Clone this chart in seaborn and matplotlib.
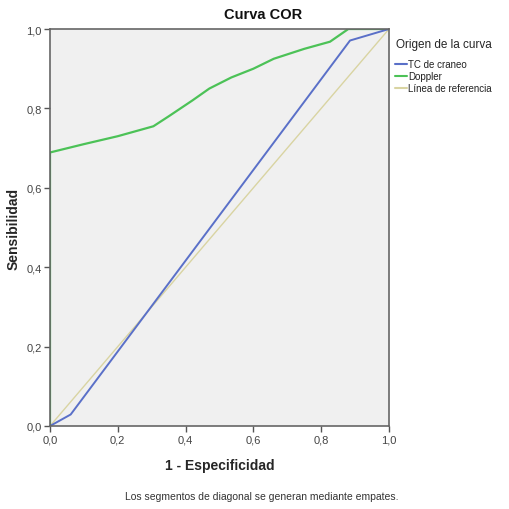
import numpy as np
import pandas as pd
import matplotlib
matplotlib.use("Agg")
import matplotlib.pyplot as plt
import seaborn as sns

# ROC coordinates (1 - specificity, sensitivity)
tc_x = [0.0, 0.061, 0.885, 1.0]
tc_y = [0.0, 0.029, 0.971, 1.0]

doppler_x = [0.0, 0.0, 0.10, 0.20, 0.305, 0.35, 0.42, 0.47, 0.535, 0.60, 0.66, 0.75, 0.826, 0.88, 1.0]
doppler_y = [0.0, 0.689, 0.71, 0.73, 0.755, 0.78, 0.82, 0.85, 0.878, 0.90, 0.925, 0.95, 0.968, 1.0, 1.0]

ref_x = [0.0, 1.0]
ref_y = [0.0, 1.0]

series_names = ["TC de craneo", "Doppler", "Línea de referencia"]
series_colors = ["#5a70c8", "#4cc257", "#d9d4a2"]
series_widths = [1.4, 1.6, 1.0]

ticks = [0.0, 0.2, 0.4, 0.6, 0.8, 1.0]
tick_labels = ["0,0", "0,2", "0,4", "0,6", "0,8", "1,0"]

sns.set_theme(style="white")
plt.rcParams["font.family"] = ["Liberation Sans", "DejaVu Sans"]

frames = []
for name, xs, ys in zip(series_names, [tc_x, doppler_x, ref_x], [tc_y, doppler_y, ref_y]):
    frames.append(pd.DataFrame({"x": xs, "y": ys, "curva": name, "orden": range(len(xs))}))
df = pd.concat(frames, ignore_index=True)

fig = plt.figure(figsize=(5.09, 5.10), dpi=100)
ax = fig.add_axes([50 / 509, 1 - 427 / 510, (389 - 50) / 509, (427 - 30) / 510])
ax.set_facecolor("#f0f0f0")

# draw reference first so the curves sit on top
for name, color, lw in reversed(list(zip(series_names, series_colors, series_widths))):
    sub = df[df["curva"] == name]
    sns.lineplot(data=sub, x="x", y="y", sort=False, estimator=None, color=color,
                 linewidth=lw, ax=ax, label=name, legend=False)

ax.set_xlim(0, 1)
ax.set_ylim(0, 1)
ax.set_xticks(ticks)
ax.set_xticklabels(tick_labels)
ax.set_yticks(ticks)
ax.set_yticklabels(tick_labels)
ax.tick_params(axis="both", direction="out", length=4, width=1, color="#555555",
               labelsize=8, labelcolor="#444444", pad=2, bottom=True, left=True)
for sp in ax.spines.values():
    sp.set_color("#666666")
    sp.set_linewidth(1.2)

fig.text(263 / 509, 1 - 15 / 510, "Curva COR", ha="center", va="center",
         fontsize=10.5, fontweight="bold", color="#111111")
ax.set_xlabel("1 - Especificidad", fontsize=10, fontweight="bold")
ax.set_ylabel("Sensibilidad", fontsize=10, fontweight="bold")
ax.xaxis.set_label_coords(0.5, -(466 - 427) / 397)
ax.yaxis.set_label_coords(-(50 - 14) / 339, 0.5)
ax.xaxis.label.set_va("center")
ax.yaxis.label.set_va("center")

handles = [plt.Line2D([], [], color=c, lw=1.5) for c in series_colors]
leg = fig.legend(handles, series_names, title="Origen de la curva", loc="upper left",
                 bbox_to_anchor=(391 / 509, 1 - 35 / 510), frameon=False, fontsize=7,
                 title_fontsize=8.5, handlelength=1.2, handletextpad=0.2, labelspacing=0.22,
                 borderaxespad=0)
leg._legend_box.align = "center"
leg._legend_box.sep = 6.5
for t in leg.get_texts():
    t.set_color("#222222")

fig.text(262 / 509, 1 - 497 / 510, "Los segmentos de diagonal se generan mediante empates.",
         ha="center", va="center", fontsize=7.5, color="#333333")

fig.savefig("out.png", dpi=100)
